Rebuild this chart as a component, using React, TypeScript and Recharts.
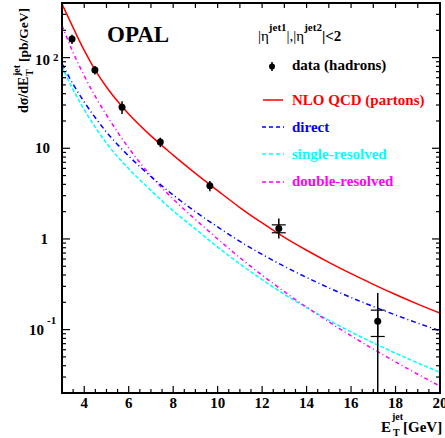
import React from 'react';
import { ComposedChart, Line, Scatter, ErrorBar, XAxis, YAxis } from 'recharts';

// E_T grid of the theory curves [GeV]
const etGrid = [3, 3.5, 4, 4.5, 5, 6, 7, 8, 9, 10, 11, 12, 13, 14, 15, 16, 17, 18, 19, 20];
// dsigma/dE_T [pb/GeV]
const nloQcd = [390, 214, 120, 72.3, 47.4, 23.9, 13.7, 8.4, 5.28, 3.41, 2.22, 1.5, 1.04, 0.75, 0.552, 0.414, 0.316, 0.244, 0.191, 0.152];
const direct = [86, 50.9, 32.4, 21.7, 15.1, 8.22, 4.88, 3.05, 2.0, 1.355, 0.94, 0.675, 0.498, 0.376, 0.289, 0.226, 0.18, 0.145, 0.118, 0.097];
const singleResolved = [79.4, 44.3, 26.7, 17.0, 11.4, 5.96, 3.43, 2.04, 1.29, 0.813, 0.531, 0.356, 0.245, 0.175, 0.127, 0.0944, 0.0714, 0.055, 0.0429, 0.0338];
const doubleResolved = [226, 114, 63, 37.2, 23.3, 10.07, 4.95, 2.75, 1.64, 1.0, 0.621, 0.398, 0.262, 0.177, 0.122, 0.0855, 0.061, 0.044, 0.0322, 0.0238];

// measured data (hadrons)
const dataEt = [3.45, 4.48, 5.7, 7.42, 9.65, 12.75, 17.2];
const dataXsec = [160, 73, 28.4, 11.7, 3.85, 1.3, 0.124];
const statLo = [19, 8, 4.5, 1.4, 0.5, 0.29, 0.104];
const statHi = [19, 8, 4.5, 1.4, 0.5, 0.38, 0.13];
const systErr = [0, 0, 0, 0, 0, 0.13, 0.04];

const xTicks = [3.5, 4, 4.5, 5, 5.5, 6, 6.5, 7, 7.5, 8, 8.5, 9, 9.5, 10, 10.5, 11, 11.5, 12, 12.5, 13, 13.5, 14, 14.5, 15, 15.5, 16, 16.5, 17, 17.5, 18, 18.5, 19, 19.5, 20];
const xLabelTicks = [4, 6, 8, 10, 12, 14, 16, 18, 20];
const yTicks = [
  0.03, 0.04, 0.05, 0.06, 0.07, 0.08, 0.09, 0.1,
  0.2, 0.3, 0.4, 0.5, 0.6, 0.7, 0.8, 0.9, 1,
  2, 3, 4, 5, 6, 7, 8, 9, 10,
  20, 30, 40, 50, 60, 70, 80, 90, 100,
  200, 300,
];
const yTickLabels: Record<string, [string, string]> = {
  '0.1': ['10', '-1'],
  '1': ['1', ''],
  '10': ['10', ''],
  '100': ['10', '2'],
};

const FONT = '"Liberation Serif", "Times New Roman", serif';
const PLOT_L = 62;
const PLOT_R = 440;
const PLOT_T = 3;
const PLOT_B = 393;

const curve = (vals: number[]) => etGrid.map((x, i) => ({ x, y: vals[i] }));
const points = dataEt.map((x, i) => ({
  x,
  y: dataXsec[i],
  stat: [statLo[i], statHi[i]],
  syst: systErr[i],
}));

const isDecade = (v: number) => Math.abs(Math.log10(v) - Math.round(Math.log10(v))) < 1e-6;

const XTick = (props: any) => {
  const x = props.x;
  const v = props.payload.value;
  const major = xLabelTicks.includes(v);
  const integer = Number.isInteger(v);
  return (
    <g>
      <line x1={x} x2={x} y1={PLOT_B} y2={PLOT_B - (major ? 7 : 4)} stroke="#000" strokeWidth={1.2} />
      {integer && v < 20 && (
        <line x1={x} x2={x} y1={PLOT_T} y2={PLOT_T + 5} stroke="#000" strokeWidth={1.2} />
      )}
      {major && (
        <text x={x} y={408} textAnchor="middle" fontFamily={FONT} fontWeight="bold" fontSize={15} fill="#000">
          {v}
        </text>
      )}
    </g>
  );
};

const YTick = (props: any) => {
  const y = props.y;
  const v = props.payload.value;
  const major = isDecade(v);
  const len = major ? 8 : 4;
  const label = yTickLabels[String(v)];
  let labelEl = null;
  if (label) {
    const [base, exp] = label;
    if (v === 100) {
      labelEl = (
        <g fontFamily={FONT} fontWeight="bold" fill="#000">
          <text x={50} y={y + 7} textAnchor="end" fontSize={15}>{base}</text>
          <text x={53} y={y + 3} fontSize={11}>{exp}</text>
        </g>
      );
    } else if (v === 0.1) {
      labelEl = (
        <g fontFamily={FONT} fontWeight="bold" fill="#000">
          <text x={44} y={y + 5} textAnchor="end" fontSize={15}>{base}</text>
          <text x={47} y={y - 6} fontSize={11}>{exp}</text>
        </g>
      );
    } else {
      labelEl = (
        <text x={v === 1 ? 48 : 50} y={y + 5} textAnchor="end" fontFamily={FONT} fontWeight="bold" fontSize={15} fill="#000">
          {base}
        </text>
      );
    }
  }
  return (
    <g>
      <line x1={PLOT_L} x2={PLOT_L + len} y1={y} y2={y} stroke="#000" strokeWidth={1.2} />
      <line x1={PLOT_R} x2={PLOT_R - len} y1={y} y2={y} stroke="#000" strokeWidth={1.2} />
      {labelEl}
    </g>
  );
};

const Overlay = () => (
  <svg
    width={445}
    height={438}
    style={{ position: 'absolute', left: 0, top: 0, pointerEvents: 'none' }}
    fontFamily={FONT}
    fontWeight="bold"
  >
    <rect x={PLOT_L} y={PLOT_T} width={PLOT_R - PLOT_L} height={PLOT_B - PLOT_T} fill="none" stroke="#000" strokeWidth={2} />

    {/* y axis title */}
    <g transform="translate(28,113) rotate(-90)" fill="#000">
      <text x={0} y={0} fontSize={14}>dσ/dE</text>
      <text x={37} y={5} fontSize={10}>T</text>
      <text x={37} y={-8} fontSize={10}>jet</text>
      <text x={51} y={0} fontSize={13.5}>[pb/GeV]</text>
    </g>

    {/* x axis title */}
    <g fill="#000">
      <text x={381} y={432} fontSize={15}>E</text>
      <text x={393} y={436} fontSize={10}>T</text>
      <text x={392} y={420} fontSize={10}>jet</text>
      <text x={403} y={432} fontSize={15}>[GeV]</text>
    </g>

    <text x={107} y={42} fontSize={23} fill="#000">OPAL</text>

    {/* legend */}
    <text x={258} y={41} fontSize={15} fill="#000">
      <tspan fontWeight="normal">|η</tspan>
      <tspan dy={-10} fontSize={11}>jet1</tspan>
      <tspan dy={10} fontWeight="normal">|,|η</tspan>
      <tspan dy={-10} fontSize={11}>jet2</tspan>
      <tspan dy={10}>|&lt;2</tspan>
    </text>

    <line x1={272} x2={272} y1={62} y2={71} stroke="#000" strokeWidth={1.5} />
    <circle cx={272} cy={66.5} r={3} fill="#000" />
    <text x={292} y={70} fontSize={15} fill="#000">data (hadrons)</text>

    <line x1={263} x2={283} y1={100} y2={100} stroke="#ff0000" strokeWidth={1.5} />
    <text x={292} y={105} fontSize={15} fill="#ff0000">NLO QCD (partons)</text>

    <line x1={262} x2={284} y1={127} y2={127} stroke="#0000ff" strokeWidth={1.5} strokeDasharray="4 3" />
    <text x={292} y={132} fontSize={15} fill="#0000ff">direct</text>

    <line x1={262} x2={284} y1={154} y2={154} stroke="#00ffff" strokeWidth={1.5} strokeDasharray="4 3" />
    <text x={292} y={159} fontSize={15} fill="#00ffff">single-resolved</text>

    <line x1={262} x2={284} y1={182} y2={182} stroke="#ff00ff" strokeWidth={1.5} strokeDasharray="4 3" />
    <text x={292} y={186} fontSize={15} fill="#ff00ff">double-resolved</text>
  </svg>
);

export default function App() {
  return (
    <div style={{ position: 'absolute', left: 0, top: 0, width: 445, height: 438, background: '#fff' }}>
      <ComposedChart width={445} height={438} margin={{ top: 3, right: 5, left: 0, bottom: 0 }}>
        <XAxis
          type="number"
          dataKey="x"
          domain={[3, 20]}
          ticks={xTicks}
          interval={0}
          allowDataOverflow
          height={45}
          axisLine={false}
          tickLine={false}
          tick={(p: any) => <XTick {...p} />}
        />
        <YAxis
          type="number"
          scale="log"
          domain={[0.02, 400]}
          ticks={yTicks}
          interval={0}
          allowDataOverflow
          width={62}
          axisLine={false}
          tickLine={false}
          tick={(p: any) => <YTick {...p} />}
        />
        <Line data={curve(singleResolved)} dataKey="y" type="monotone" stroke="#00ffff" strokeWidth={1.5} strokeDasharray="4 2" dot={false} isAnimationActive={false} />
        <Line data={curve(doubleResolved)} dataKey="y" type="monotone" stroke="#ff00ff" strokeWidth={1.5} strokeDasharray="4 3 1 3" dot={false} isAnimationActive={false} />
        <Line data={curve(direct)} dataKey="y" type="monotone" stroke="#0000ff" strokeWidth={1.5} strokeDasharray="5 3 1 3" dot={false} isAnimationActive={false} />
        <Line data={curve(nloQcd)} dataKey="y" type="monotone" stroke="#ff0000" strokeWidth={1.5} dot={false} isAnimationActive={false} />
        <Scatter
          data={points}
          dataKey="y"
          isAnimationActive={false}
          shape={(p: any) => <circle cx={p.cx} cy={p.cy} r={3.5} fill="#000" />}
        >
          <ErrorBar dataKey="stat" direction="y" width={0} stroke="#000" strokeWidth={1.5} />
          <ErrorBar dataKey="syst" direction="y" width={7} stroke="#000" strokeWidth={1.2} />
        </Scatter>
      </ComposedChart>
      <Overlay />
    </div>
  );
}
